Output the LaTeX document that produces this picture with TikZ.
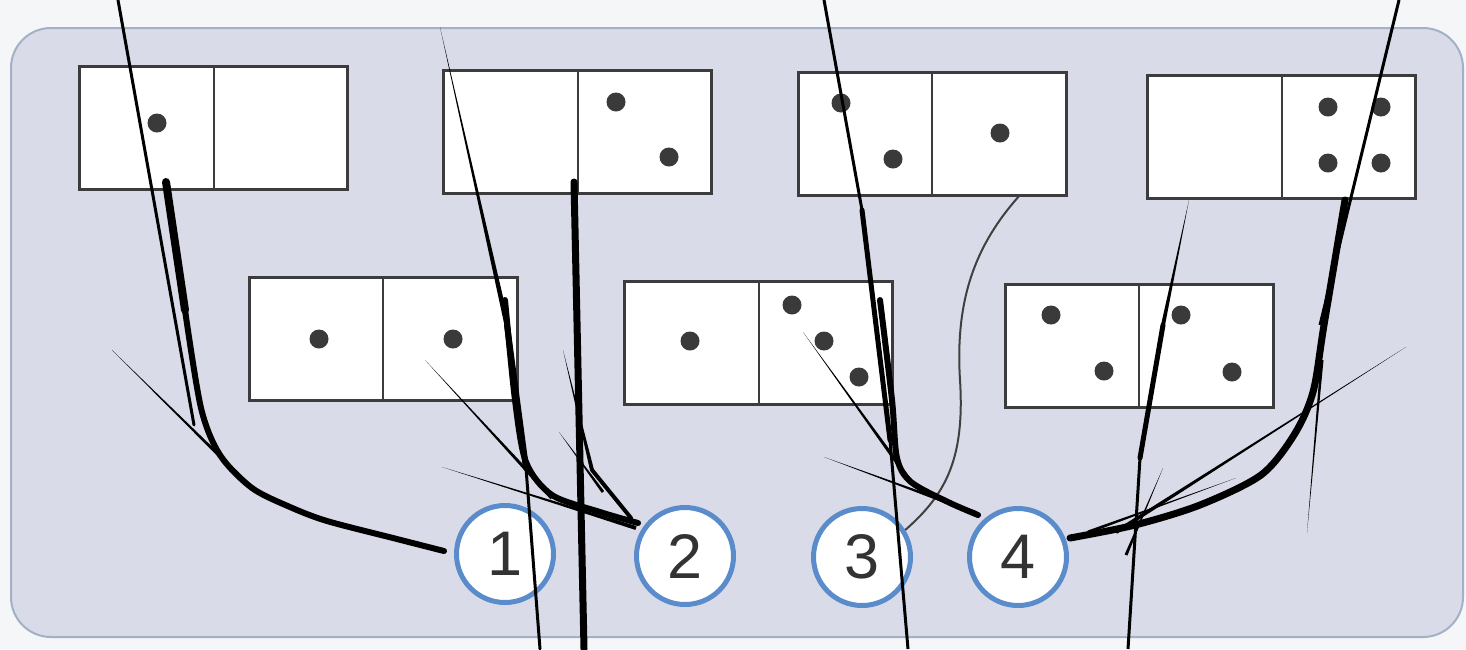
\documentclass[tikz,border=0pt]{standalone}
\usepackage{fontspec}
\setmainfont{Liberation Sans}
\usetikzlibrary{calc}
\definecolor{bgpanel}{HTML}{D9DBE8}
\definecolor{bgedge}{HTML}{A3B1C6}
\definecolor{ringblue}{HTML}{5A8CCB}
\definecolor{boxline}{HTML}{3C3C3C}
\definecolor{dotgrey}{HTML}{3A3A3A}
\definecolor{numgrey}{HTML}{333333}
\definecolor{pagebg}{HTML}{F4F6F8}
\newcommand\tpr[3]{\fill[black] (#1) -- ($(#2)!#3!90:(#1)$) -- ($(#2)!#3!-90:(#1)$) -- cycle;}
\begin{document}
\begin{tikzpicture}[x=1pt,y=-1pt,
 domino/.style={draw=boxline, line width=3pt, fill=white, minimum width=268pt, minimum height=123pt, inner sep=0pt, outer sep=0pt},
 pip/.style={fill=dotgrey},
 numc/.style={circle, draw=ringblue, line width=5pt, fill=white, minimum size=97pt, inner sep=0pt, font=\fontsize{63}{63}\selectfont, text=numgrey},
 ink/.style={line width=6pt, line cap=round, line join=round},
 inkthin/.style={line width=3pt, line cap=round},
 pencil/.style={draw=black!75, line width=2pt}]
\useasboundingbox (0,0) rectangle (1466,649);
\fill[pagebg] (0,0) rectangle (1466,649);
\filldraw[fill=bgpanel, draw=bgedge, line width=2pt, rounded corners=40pt] (11,28) rectangle (1463,637);

% dominoes
\node[domino] (d1) at (213.5,127.5) {};
\node[domino] (d2) at (577.5,132) {};
\node[domino] (d3) at (932,133.5) {};
\node[domino] (d4) at (1281.5,136.5) {};
\node[domino] (d5) at (383,338.5) {};
\node[domino] (d6) at (758.5,342.5) {};
\node[domino] (d7) at (1139,345.5) {};
\foreach \d in {d1,d2,d3,d4,d5,d6,d7}
  \draw[boxline, line width=2pt] (\d.north) -- (\d.south);

% pips
\foreach \p in {(157,123),(616,102),(669,157),(841,103),(893,159),(1000,133),
  (1328,107),(1381,107),(1328,163),(1381,163),(319,339),(453,339),
  (690,341),(792,305),(824,341),(859,377),(1051,315),(1104,371),(1181,315),(1232,372)}
  \fill[pip] \p circle (9.5pt);

% circled numbers
\node[numc] (c1) at (505,554) {1};
\node[numc] (c2) at (685,556) {2};
\node[numc] (c3) at (862,557) {3};
\node[numc] (c4) at (1018,557) {4};

% pencil connector domino 3 -> circle 3
\draw[pencil] ($(d3.south)+(88,0)$) .. controls (975,245) and (955,300) .. (960,380)
  .. controls (965,460) and (945,495) .. (c3.32);

% ink strokes
\draw[inkthin] (118,0) -- (194,425);
\draw[ink, line width=8pt] (166,182) -- (185,310);
\draw[ink] plot[smooth] coordinates {(185,310) (201,408) (220,455) (252,488) (290,507) (327,521) (393,538) (444,551)};
\tpr{112,350}{252,488}{2pt}

\tpr{440,27}{507,325}{2.5pt}
\draw[ink] (507,325) -- (526,468);
\draw[inkthin] (526,468) -- (540,649);
\draw[ink] plot[smooth] coordinates {(505,300) (515,400) (526,462) (552,495) (600,512) (638,523)};
\tpr{425,360}{552,498}{2pt}
\tpr{442,467}{636,528}{2pt}
\draw[ink, line width=7pt] (574,182) -- (584,649);
\tpr{563,350}{592,470}{2pt}
\draw[ink, line width=4pt] (592,470) -- (631,518);
\tpr{559,432}{603,492}{1.5pt}

\draw[line width=3pt] (824,0) -- (862,210);
\draw[ink, line width=5pt] (862,210) -- (890,440);
\draw[line width=3pt] (890,440) -- (908,649);
\draw[ink] plot[smooth] coordinates {(880,300) (892,400) (897,458) (911,482) (948,502) (978,515)};
\tpr{803,332}{911,482}{2pt}
\tpr{824,457}{976,513}{2pt}

\tpr{1189,200}{1163,325}{2pt}
\draw[ink, line width=5pt] (1163,325) -- (1140,458);
\draw[line width=3pt] (1140,458) -- (1128,649);
\draw[line width=3pt] (1399,0) -- (1320,325);
\draw[ink, line width=7pt] plot[smooth] coordinates {(1345,200) (1324,325) (1313,392) (1294,435) (1261,475) (1200,505) (1135,525) (1070,538)};
\tpr{1406,347}{1116,532}{2pt}
\tpr{1307,533}{1322,360}{1.5pt}
\tpr{1163,468}{1126,555}{1.5pt}
\tpr{1236,478}{1088,532}{1.5pt}
\end{tikzpicture}
\end{document}
